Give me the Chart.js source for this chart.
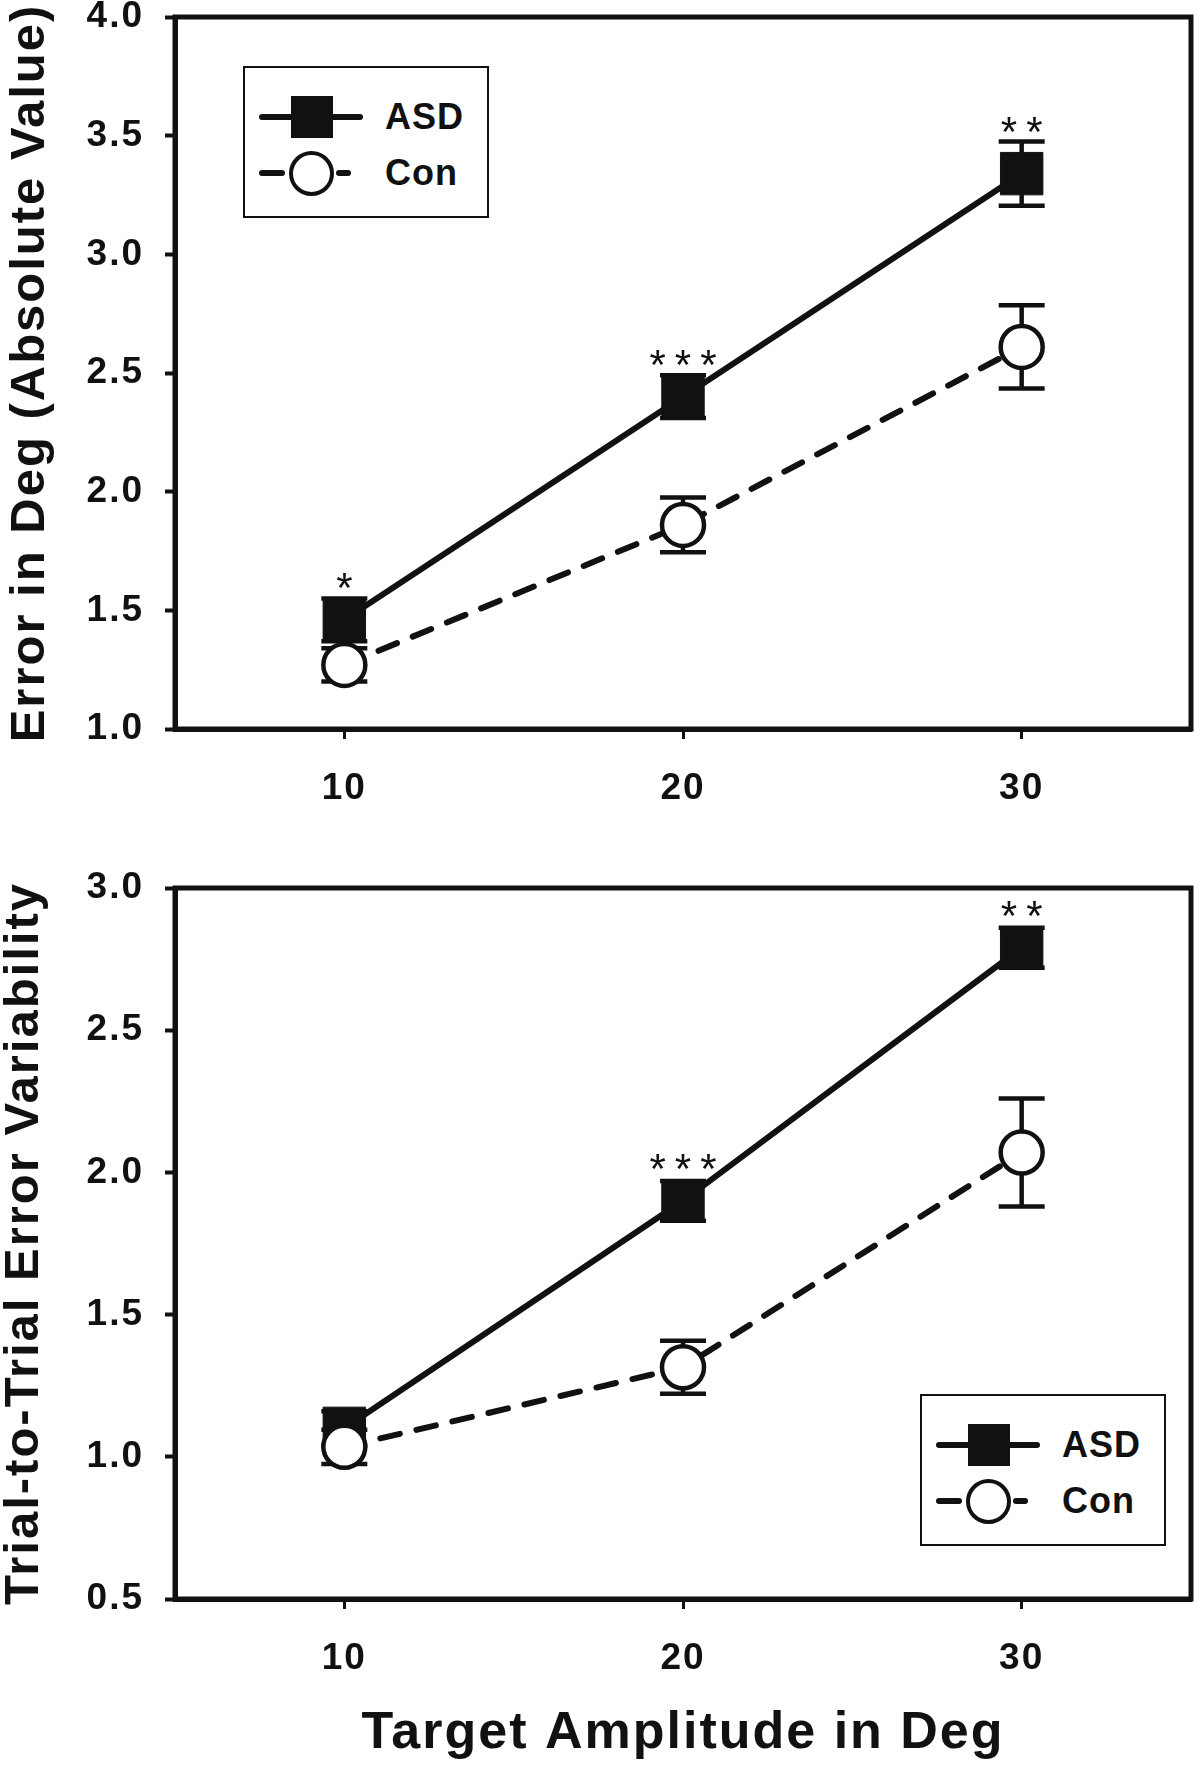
<!DOCTYPE html>
<html><head><meta charset="utf-8">
<script src="https://cdn.jsdelivr.net/npm/chart.js@4.4.1/dist/chart.umd.min.js"></script>
<style>
html,body{margin:0;padding:0;background:#fff;}
body{width:1200px;height:1771px;overflow:hidden;position:relative;font-family:"Liberation Sans",Arial,sans-serif;}
canvas{position:absolute;left:0;}
#cA{top:-40px;}
#cB{top:830px;}
.legend{position:absolute;width:246px;height:152px;border:2px solid #111;box-sizing:border-box;background:#fff;z-index:5;}
.row{position:absolute;left:0;width:100%;height:0;}
.seg{position:absolute;height:6px;background:#111;border-radius:3px;top:-3px;}
.sq{position:absolute;width:42px;height:42px;background:#111;top:-21px;}
.ci{position:absolute;width:45px;height:45px;border:4.5px solid #111;border-radius:50%;box-sizing:border-box;background:#fff;top:-22.5px;}
.lbl{position:absolute;font-weight:bold;font-size:36px;line-height:40px;top:-20px;color:#111;letter-spacing:1px;}
</style></head>
<body>
<canvas id="cA" width="1222" height="870"></canvas>
<canvas id="cB" width="1222" height="941"></canvas>
<div class="legend" id="legA" style="left:243px;top:66px;"></div>
<div class="legend" id="legB" style="left:920px;top:1394px;"></div>
<script>
// ---- data ----
const xValues = [10, 20, 30];
const xTicks = [10, 20, 30];
const seriesNames = ['ASD', 'Con'];

const topAsd = [1.46, 2.40, 3.34];
const topAsdErr = [0.09, 0.09, 0.135];
const topCon = [1.27, 1.86, 2.61];
const topConErr = [0.07, 0.115, 0.175];
const topSig = ['*', '***', '**'];
const topYTicks = [1.0, 1.5, 2.0, 2.5, 3.0, 3.5, 4.0];

const botAsd = [1.10, 1.90, 2.79];
const botAsdErr = [0.06, 0.07, 0.07];
const botCon = [1.035, 1.315, 2.07];
const botConErr = [0.06, 0.093, 0.19];
const botSig = ['', '***', '**'];
const botYTicks = [0.5, 1.0, 1.5, 2.0, 2.5, 3.0];

const topYTitle = 'Error in Deg (Absolute Value)';
const botYTitle = 'Trial-to-Trial Error Variability';
const xTitle = 'Target Amplitude in Deg';

// ---- styling ----
const FAM = '"Liberation Sans", Arial, Helvetica, sans-serif';
const INK = '#111';

const spacingPlugin = {
  id: 'spacing',
  beforeDraw(chart) { chart.ctx.letterSpacing = '2px'; }
};
const framePlugin = {
  id: 'frame',
  beforeDatasetsDraw(chart) {
    const {ctx, chartArea: {left, top, right, bottom}} = chart;
    ctx.save();
    ctx.strokeStyle = INK; ctx.lineWidth = 5;
    ctx.strokeRect(left, top, right - left, bottom - top);
    ctx.restore();
  }
};
const errPlugin = {
  id: 'errbars',
  beforeDatasetsDraw(chart, args, opts) {
    const {ctx, scales: {x, y}} = chart;
    ctx.save();
    ctx.strokeStyle = INK; ctx.lineWidth = 4.5; ctx.lineCap = 'butt';
    opts.sets.forEach(s => {
      s.values.forEach((v, i) => {
        const px = x.getPixelForValue(xValues[i]);
        const t = y.getPixelForValue(v + s.errors[i]);
        const b = y.getPixelForValue(v - s.errors[i]);
        ctx.beginPath();
        ctx.moveTo(px, t); ctx.lineTo(px, b);
        ctx.moveTo(px - 23, t); ctx.lineTo(px + 23, t);
        ctx.moveTo(px - 23, b); ctx.lineTo(px + 23, b);
        ctx.stroke();
      });
    });
    ctx.restore();
  }
};
const sigPlugin = {
  id: 'sig',
  afterDatasetsDraw(chart, args, opts) {
    const {ctx, scales: {x, y}} = chart;
    const size = 42;
    ctx.save();
    ctx.font = size + 'px ' + FAM;
    ctx.fillStyle = INK;
    ctx.textAlign = 'left';
    ctx.textBaseline = 'alphabetic';
    const ls = 9;
    opts.labels.forEach((t, i) => {
      if (!t) return;
      const px = x.getPixelForValue(xValues[i]);
      const py = y.getPixelForValue(opts.values[i]);
      const top = Math.min(py - 22, y.getPixelForValue(opts.values[i] + opts.errors[i]));
      const cy = top - 20;
      ctx.letterSpacing = '0px';
      const w0 = ctx.measureText(t).width;
      const total = w0 + ls * (t.length - 1);
      ctx.letterSpacing = ls + 'px';
      ctx.fillText(t, px - total / 2, cy + 0.58 * size);
    });
    ctx.restore();
  }
};

function makeChart(id, cfg) {
  const tickFont = {family: FAM, size: 37, weight: 'bold', lineHeight: 1.2};
  return new Chart(document.getElementById(id), {
    type: 'line',
    data: {
      datasets: [
        {
          label: seriesNames[0],
          data: xValues.map((xv, i) => ({x: xv, y: cfg.asd[i]})),
          borderColor: INK, backgroundColor: INK, borderWidth: 6, tension: 0, fill: false,
          pointStyle: 'rect', pointRadius: 30, pointHoverRadius: 30,
          pointBackgroundColor: INK, pointBorderColor: INK, pointBorderWidth: 1,
          order: 1, clip: false
        },
        {
          label: seriesNames[1],
          data: xValues.map((xv, i) => ({x: xv, y: cfg.con[i]})),
          borderColor: INK, backgroundColor: '#fff', borderWidth: 6, tension: 0, fill: false,
          borderDash: [20, 17], borderCapStyle: 'round',
          pointStyle: 'circle', pointRadius: 21, pointHoverRadius: 21,
          pointBackgroundColor: '#fff', pointBorderColor: INK, pointBorderWidth: 4.5,
          order: 0, clip: false
        }
      ]
    },
    options: {
      responsive: false, animation: false, devicePixelRatio: 1,
      layout: {padding: {top: cfg.padTop, right: 30, left: 0, bottom: 0}},
      events: [],
      plugins: {
        legend: {display: false},
        tooltip: {enabled: false},
        errbars: {sets: [{values: cfg.asd, errors: cfg.asdErr}, {values: cfg.con, errors: cfg.conErr}]},
        sig: {values: cfg.asd, errors: cfg.asdErr, labels: cfg.sig}
      },
      scales: {
        x: {
          type: 'linear', min: 5, max: 35,
          afterBuildTicks: s => { s.ticks = xTicks.map(v => ({value: v})); },
          afterFit: s => { s.height = cfg.xHeight; },
          border: {display: true, width: 5, color: INK},
          grid: {drawOnChartArea: false, drawTicks: true, tickLength: 10, tickWidth: 3, tickColor: INK},
          ticks: {color: INK, padding: 28, maxRotation: 0, autoSkip: false, font: tickFont, callback: v => String(v)},
          title: cfg.xTitle ? {display: true, text: cfg.xTitle, color: INK,
            font: {family: FAM, size: 52, weight: 'bold', lineHeight: 1}, padding: {top: 0, bottom: 11}} : {display: false}
        },
        y: {
          type: 'linear', min: cfg.yTicks[0], max: cfg.yTicks[cfg.yTicks.length - 1],
          afterBuildTicks: s => { s.ticks = cfg.yTicks.map(v => ({value: v})); },
          afterFit: s => { s.width = 175; },
          border: {display: true, width: 5, color: INK},
          grid: {drawOnChartArea: false, drawTicks: true, tickLength: 10, tickWidth: 4, tickColor: INK},
          ticks: {color: INK, padding: 21, font: tickFont, callback: v => Number(v).toFixed(1)},
          title: {display: true, text: cfg.yTitle, color: INK,
            font: {family: FAM, size: 49, weight: 'bold', lineHeight: 1}, padding: {top: cfg.yTitlePad, bottom: 0}}
        }
      }
    },
    plugins: [spacingPlugin, framePlugin, errPlugin, sigPlugin]
  });
}

makeChart('cA', {asd: topAsd, asdErr: topAsdErr, con: topCon, conErr: topConErr, sig: topSig,
  yTicks: topYTicks, yTitle: topYTitle, xTitle: null, padTop: 57, xHeight: 101, yTitlePad: 6});
makeChart('cB', {asd: botAsd, asdErr: botAsdErr, con: botCon, conErr: botConErr, sig: botSig,
  yTicks: botYTicks, yTitle: botYTitle, xTitle: xTitle, padTop: 58, xHeight: 172, yTitlePad: 0});

// ---- legends (HTML) ----
function buildLegend(el) {
  const rows = [49, 105];
  seriesNames.forEach((name, k) => {
    const r = document.createElement('div');
    r.className = 'row'; r.style.top = rows[k] + 'px';
    if (k === 0) {
      r.innerHTML = '<div class="seg" style="left:14px;width:104px"></div>' +
        '<div class="sq" style="left:45.5px"></div>';
    } else {
      r.innerHTML = '<div class="seg" style="left:14px;width:26px"></div>' +
        '<div class="seg" style="left:91px;width:15px"></div>' +
        '<div class="ci" style="left:44px"></div>';
    }
    const t = document.createElement('div');
    t.className = 'lbl'; t.style.left = '140px'; t.textContent = name;
    r.appendChild(t);
    el.appendChild(r);
  });
}
buildLegend(document.getElementById('legA'));
buildLegend(document.getElementById('legB'));
</script>
</body></html>
